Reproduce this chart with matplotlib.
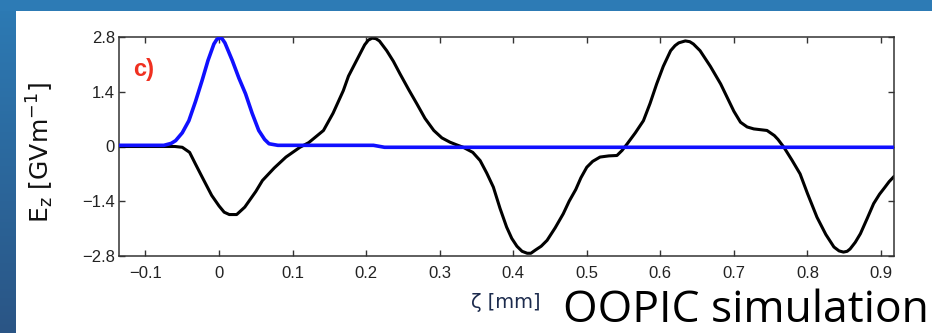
import numpy as np
import matplotlib
matplotlib.use("Agg")
import matplotlib.pyplot as plt
from matplotlib.patches import Rectangle

# black curve: E_z wakefield (GV/m) vs zeta (mm)
zeta_k = [-0.136, -0.06, -0.05, -0.04, -0.032, -0.023, -0.01, 0.0, 0.007, 0.014,
          0.024, 0.035, 0.05, 0.059, 0.075, 0.091, 0.11, 0.122, 0.142, 0.155,
          0.169, 0.176, 0.187, 0.198, 0.203, 0.208, 0.213, 0.218, 0.228, 0.237,
          0.246, 0.258, 0.269, 0.28, 0.292, 0.303, 0.314, 0.322, 0.332, 0.345,
          0.355, 0.364, 0.373, 0.382, 0.391, 0.398, 0.405, 0.412, 0.419, 0.424,
          0.43, 0.438, 0.446, 0.457, 0.468, 0.476, 0.485, 0.492, 0.5, 0.508,
          0.518, 0.53, 0.541, 0.548, 0.555, 0.566, 0.577, 0.586, 0.595, 0.604,
          0.614, 0.62, 0.625, 0.634, 0.64, 0.645, 0.654, 0.668, 0.682, 0.691,
          0.7, 0.709, 0.718, 0.727, 0.736, 0.745, 0.755, 0.76, 0.768, 0.779,
          0.79, 0.8, 0.813, 0.825, 0.836, 0.843, 0.849, 0.854, 0.858, 0.865,
          0.872, 0.881, 0.89, 0.898, 0.905, 0.911, 0.917]
ez_k = [0.0, 0.0, -0.02, -0.15, -0.45, -0.78, -1.25, -1.52, -1.68, -1.74,
        -1.74, -1.55, -1.15, -0.87, -0.55, -0.27, -0.02, 0.1, 0.41, 0.85,
        1.43, 1.8, 2.2, 2.6, 2.72, 2.77, 2.76, 2.7, 2.45, 2.18,
        1.86, 1.45, 1.09, 0.72, 0.41, 0.22, 0.11, 0.05, -0.02, -0.15,
        -0.36, -0.68, -1.04, -1.58, -2.06, -2.35, -2.55, -2.68, -2.73, -2.73,
        -2.65, -2.55, -2.4, -2.08, -1.72, -1.4, -1.1, -0.8, -0.53, -0.38,
        -0.27, -0.24, -0.23, -0.1, 0.07, 0.35, 0.66, 1.1, 1.6, 2.05,
        2.45, 2.58, 2.65, 2.7, 2.68, 2.62, 2.45, 2.05, 1.6, 1.25,
        0.9, 0.62, 0.5, 0.45, 0.43, 0.41, 0.28, 0.18, -0.02, -0.35,
        -0.7, -1.2, -1.81, -2.25, -2.57, -2.67, -2.7, -2.68, -2.62, -2.45,
        -2.23, -1.85, -1.46, -1.22, -1.05, -0.9, -0.78]

# blue curve: bunch profile
zeta_b = [-0.136, -0.075, -0.065, -0.059, -0.05, -0.041, -0.032, -0.023, -0.015, -0.007,
          -0.003, 0.001, 0.004, 0.008, 0.018, 0.027, 0.036, 0.045, 0.054, 0.062,
          0.068, 0.08, 0.21, 0.225, 0.917]
ez_b = [0.03, 0.03, 0.08, 0.15, 0.35, 0.66, 1.15, 1.69, 2.2, 2.62,
        2.74, 2.78, 2.76, 2.65, 2.2, 1.75, 1.35, 0.85, 0.41, 0.18,
        0.07, 0.03, 0.03, -0.02, -0.02]

xticks = [-0.1, 0, 0.1, 0.2, 0.3, 0.4, 0.5, 0.6, 0.7, 0.8, 0.9]
xlabels = ["\u22120.1", "0", "0.1", "0.2", "0.3", "0.4", "0.5", "0.6", "0.7", "0.8", "0.9"]
yticks = [-2.8, -1.4, 0, 1.4, 2.8]
ylabels = ["\u22122.8", "\u22121.4", "0", "1.4", "2.8"]

W, H = 932, 333
fig = plt.figure(figsize=(W / 100, H / 100), dpi=100)
fig.patch.set_facecolor("white")

# slide frame: top bar + left gradient bar
fig.patches.append(Rectangle((0, 1 - 11 / H), 1, 11 / H, transform=fig.transFigure,
                             facecolor="#2d7bb5", edgecolor="none", zorder=0))
bar = fig.add_axes([0, 0, 16 / W, 1])
grad = np.linspace(0, 1, 256)[:, None]
c_top = np.array([0x2d, 0x7b, 0xb5]) / 255
c_bot = np.array([0x2a, 0x55, 0x85]) / 255
bar.imshow(c_top + (c_bot - c_top) * grad[:, :, None], aspect="auto", extent=[0, 1, 0, 1])
bar.axis("off")

ax = fig.add_axes([119 / W, 1 - 256 / H, (893.5 - 119) / W, (256 - 37) / H])
ax.plot(zeta_k, ez_k, color="black", lw=2.2, solid_joinstyle="round", zorder=2)
ax.plot(zeta_b, ez_b, color="#1010ff", lw=2.6, solid_joinstyle="round", zorder=3)

ax.set_xlim(-0.136, 0.917)
ax.set_ylim(-2.8, 2.8)
ax.set_xticks(xticks)
ax.set_xticklabels(xlabels)
ax.set_yticks(yticks)
ax.set_yticklabels(ylabels)
ax.tick_params(direction="in", length=4.5, width=1, color="#333333",
               top=True, right=True, labelsize=12, labelcolor="#222222",
               labelfontfamily="Liberation Sans")
ax.tick_params(axis="x", pad=7)
ax.tick_params(axis="y", pad=3)
for s in ax.spines.values():
    s.set_color("#333333")
    s.set_linewidth(1.1)

ax.text(0.018, 0.85, "c)", transform=ax.transAxes, color="#f03020",
        fontsize=17, fontweight="bold", family="Liberation Sans", va="center")

fig.text(40 / W, 1 - 153 / H, r"E$_\mathregular{z}$ [GVm$^\mathregular{-1}$]",
         rotation=90, ha="center", va="center", fontsize=18, family="DejaVu Sans",
         color="#111111")
fig.text(506 / W, 1 - 303 / H, "\u03b6 [mm]", ha="center", va="center",
         fontsize=14, family="DejaVu Sans", color="#1c2b4d")
fig.text(929 / W, 1 - 322 / H, "OOPIC simulation", ha="right", va="baseline",
         fontsize=32, family="Open Sans", color="black")

fig.savefig("out.png", dpi=100)
